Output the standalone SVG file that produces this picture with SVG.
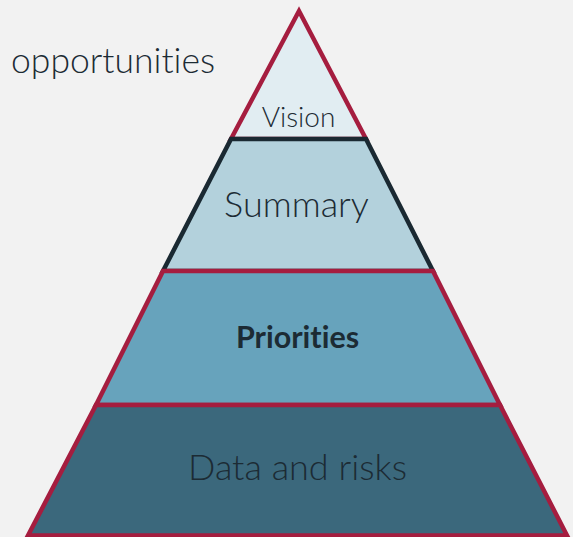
<svg xmlns="http://www.w3.org/2000/svg" width="573" height="537" viewBox="0 0 573 537">
  <style>
    .lbl { font-family: Lato, "Open Sans", "Liberation Sans", sans-serif; fill: #1c2b34; font-weight: 300; font-variant-ligatures: none; }
    .bold { font-weight: 700; }
    .tier { stroke-width: 4.5; stroke-linejoin: miter; }
    .red { stroke: #a51d3f; }
    .dark { stroke: #1a2932; }
  </style>
  <rect width="573" height="537" fill="#f2f2f2"/>

  <text class="lbl" x="11" y="73" font-size="35.5">opportunities</text>

  <g id="vision">
    <polygon class="tier red" points="299,11 231,139 366,139" fill="#e1edf2"/>
    <text class="lbl" x="298.5" y="127" font-size="28" text-anchor="middle">Vision</text>
  </g>
  <g id="summary">
    <polygon class="tier dark" points="231,139 366,139 433,271 163,271" fill="#b3d1dc"/>
    <text class="lbl" x="296.5" y="217" font-size="36" text-anchor="middle">Summary</text>
  </g>
  <g id="priorities">
    <polygon class="tier red" points="163,271 433,271 500,405 96,405" fill="#67a3bc"/>
    <text class="lbl bold" x="297.5" y="348" font-size="30.5" text-anchor="middle">Priorities</text>
  </g>
  <g id="data">
    <polygon class="tier red" points="96,405 500,405 567,535.5 28,535.5" fill="#3b687c"/>
    <text class="lbl" x="297.5" y="480" font-size="36" text-anchor="middle">Data and risks</text>
  </g>
</svg>
